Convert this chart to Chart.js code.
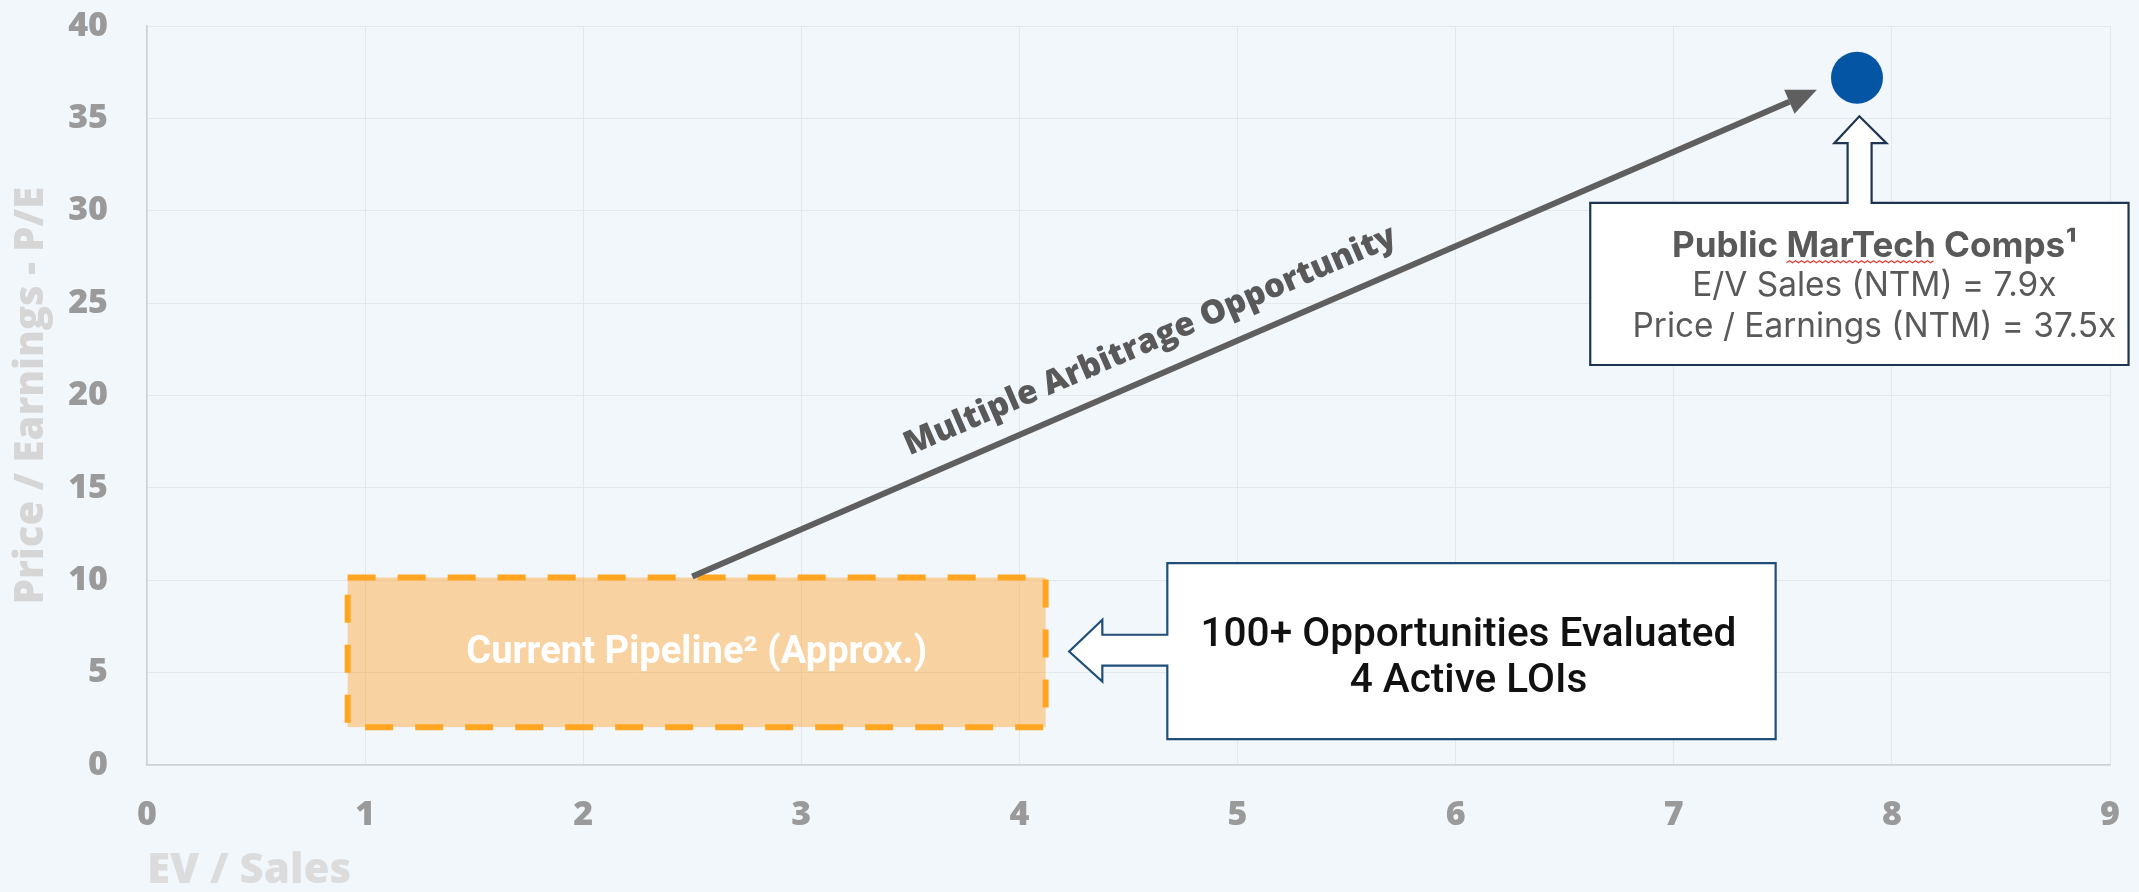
<!DOCTYPE html>
<html><head><meta charset="utf-8">
<script src="https://cdn.jsdelivr.net/npm/chart.js@4.4.1/dist/chart.umd.min.js"></script>
<style>html,body{margin:0;padding:0;background:#f2f7fc;} #wrap{width:2139px;height:892px;position:relative}</style>
</head><body><div id="wrap"><canvas id="c"></canvas></div>
<script>
// ---- data ----
const xTickValues = [0,1,2,3,4,5,6,7,8,9];
const yTickValues = [0,5,10,15,20,25,30,35,40];
const compsX = [7.84];
const compsY = [37.2];
const arrowX = [2.5, 7.53];
const arrowY = [10.2, 35.9];
const pipelineX = [0.92, 4.12];
const pipelineY = [2.05, 10.15];
const pipelineLabel = 'Current Pipeline² (Approx.)';
const arrowLabel = 'Multiple Arbitrage Opportunity';
const compsText = ['Public MarTech Comps¹', 'E/V Sales (NTM) = 7.9x', 'Price / Earnings (NTM) = 37.5x'];
const pipelineNote = ['100+ Opportunities Evaluated', '4 Active LOIs'];
const xTitle = 'EV / Sales';
const yTitle = 'Price / Earnings - P/E';

// ---- annotation geometry (data units) ----
const arrowLabelPos = {x: 4.60, y: 22.94};
const noteBox = {left: 4.678, right: 7.467, top: 10.93, bottom: 1.40, stemTop: 7.05, stemBottom: 5.38, headBackX: 4.38, headTop: 7.86, headBottom: 4.52, tipX: 4.228, tipY: 6.14};
const compsBox = {left: 6.617, right: 9.085, top: 30.43, bottom: 21.65, stemLeft: 7.797, stemRight: 7.907, headLeft: 7.736, headRight: 7.975, headBase: 33.66, tipX: 7.851, tipY: 35.11};

function fitSize(ctx, text, weight, family, target) {
  ctx.font = `${weight} 100px ${family}`;
  return 100 * target / ctx.measureText(text).width;
}

const bgPlugin = {
  id: 'bg',
  beforeDraw(c) {
    const ctx = c.ctx; ctx.save(); ctx.fillStyle = '#f2f7fc'; ctx.fillRect(0, 0, c.width, c.height); ctx.restore();
  }
};

const annotPlugin = {
  id: 'annot',
  beforeDatasetsDraw(c) {
    const ctx = c.ctx, X = c.scales.x, Y = c.scales.y;
    const x0 = X.getPixelForValue(pipelineX[0]), x1 = X.getPixelForValue(pipelineX[1]);
    const y0 = Y.getPixelForValue(pipelineY[1]), y1 = Y.getPixelForValue(pipelineY[0]);
    ctx.save();
    ctx.fillStyle = 'rgba(255,165,50,0.45)';
    ctx.fillRect(x0, y0, x1 - x0, y1 - y0);
    ctx.setLineDash([28, 22]);
    ctx.lineWidth = 6; ctx.strokeStyle = '#ffa51f';
    ctx.strokeRect(x0, y0, x1 - x0, y1 - y0);
    ctx.setLineDash([]);
    const s = fitSize(ctx, pipelineLabel, 700, 'Roboto', 461);
    ctx.font = `700 ${s}px Roboto`;
    ctx.fillStyle = '#ffffff'; ctx.textAlign = 'center'; ctx.textBaseline = 'middle';
    ctx.fillText(pipelineLabel, (x0 + x1) / 2, (y0 + y1) / 2 + 1);
    ctx.restore();
  },
  afterDatasetsDraw(c) {
    const ctx = c.ctx, X = c.scales.x, Y = c.scales.y;
    const px = v => X.getPixelForValue(v), py = v => Y.getPixelForValue(v);
    ctx.save();
    // arrow head
    const ax0 = px(arrowX[0]), ay0 = py(arrowY[0]), ax1 = px(arrowX[1]), ay1 = py(arrowY[1]);
    const ang = Math.atan2(ay1 - ay0, ax1 - ax0);
    const L = 30, W = 13;
    const tx = ax1 + L * Math.cos(ang), ty = ay1 + L * Math.sin(ang);
    ctx.fillStyle = '#5f5f5f';
    ctx.beginPath();
    ctx.moveTo(tx, ty);
    ctx.lineTo(ax1 + W * Math.sin(ang), ay1 - W * Math.cos(ang));
    ctx.lineTo(ax1 - W * Math.sin(ang), ay1 + W * Math.cos(ang));
    ctx.closePath(); ctx.fill();
    // arrow label
    ctx.save();
    ctx.translate(px(arrowLabelPos.x), py(arrowLabelPos.y));
    ctx.rotate(ang);
    const s1 = fitSize(ctx, arrowLabel, 800, '"Open Sans"', 533);
    ctx.font = `800 ${s1}px "Open Sans"`;
    ctx.fillStyle = '#595959'; ctx.textAlign = 'center'; ctx.textBaseline = 'middle';
    ctx.fillText(arrowLabel, 0, 0);
    ctx.restore();

    // note callout (left arrow)
    const b = noteBox;
    ctx.beginPath();
    ctx.moveTo(px(b.left), py(b.top));
    ctx.lineTo(px(b.right), py(b.top));
    ctx.lineTo(px(b.right), py(b.bottom));
    ctx.lineTo(px(b.left), py(b.bottom));
    ctx.lineTo(px(b.left), py(b.stemBottom));
    ctx.lineTo(px(b.headBackX), py(b.stemBottom));
    ctx.lineTo(px(b.headBackX), py(b.headBottom));
    ctx.lineTo(px(b.tipX), py(b.tipY));
    ctx.lineTo(px(b.headBackX), py(b.headTop));
    ctx.lineTo(px(b.headBackX), py(b.stemTop));
    ctx.lineTo(px(b.left), py(b.stemTop));
    ctx.closePath();
    ctx.fillStyle = '#ffffff'; ctx.fill();
    ctx.lineWidth = 2.2; ctx.strokeStyle = '#1f4e79'; ctx.lineJoin = 'miter'; ctx.stroke();
    const s2 = fitSize(ctx, pipelineNote[0], 500, 'Roboto', 536);
    ctx.font = `500 ${s2}px Roboto`;
    ctx.fillStyle = '#111111'; ctx.textAlign = 'center'; ctx.textBaseline = 'middle';
    const ncx = (px(b.left) + px(b.right)) / 2 - 3, ntop = py(b.top);
    ctx.fillText(pipelineNote[0], ncx, ntop + 73);
    ctx.fillText(pipelineNote[1], ncx, ntop + 119);

    // comps callout (up arrow)
    const d = compsBox;
    ctx.beginPath();
    ctx.moveTo(px(d.left), py(d.top));
    ctx.lineTo(px(d.stemLeft), py(d.top));
    ctx.lineTo(px(d.stemLeft), py(d.headBase));
    ctx.lineTo(px(d.headLeft), py(d.headBase));
    ctx.lineTo(px(d.tipX), py(d.tipY));
    ctx.lineTo(px(d.headRight), py(d.headBase));
    ctx.lineTo(px(d.stemRight), py(d.headBase));
    ctx.lineTo(px(d.stemRight), py(d.top));
    ctx.lineTo(px(d.right), py(d.top));
    ctx.lineTo(px(d.right), py(d.bottom));
    ctx.lineTo(px(d.left), py(d.bottom));
    ctx.closePath();
    ctx.fillStyle = '#ffffff'; ctx.fill();
    ctx.lineWidth = 2.2; ctx.strokeStyle = '#1d3550'; ctx.stroke();
    const ccx = (px(d.left) + px(d.right)) / 2 + 15, ctop = py(d.top);
    const s3 = fitSize(ctx, compsText[0], 700, 'Inter', 405);
    ctx.font = `700 ${s3}px Inter`;
    ctx.fillStyle = '#595959'; ctx.textAlign = 'center'; ctx.textBaseline = 'middle';
    ctx.fillText(compsText[0], ccx, ctop + 44);
    const full = ctx.measureText(compsText[0]).width;
    const pre = ctx.measureText('Public ').width;
    const word = ctx.measureText('MarTech').width;
    const sx = ccx - full / 2 + pre, ex = sx + word, sy = ctop + 60;
    ctx.beginPath(); ctx.strokeStyle = '#e53935'; ctx.lineWidth = 1.2;
    let up = true; ctx.moveTo(sx, sy);
    for (let xx = sx + 3; xx <= ex; xx += 3) { ctx.lineTo(xx, up ? sy - 2 : sy); up = !up; }
    ctx.stroke();
    const s4 = fitSize(ctx, compsText[2], 400, 'Inter', 484);
    ctx.font = `400 ${s4}px Inter`;
    ctx.fillStyle = '#595959';
    ctx.fillText(compsText[1], ccx, ctop + 83);
    ctx.fillText(compsText[2], ccx, ctop + 124);
    ctx.restore();
  }
};

function build() {
  new Chart(document.getElementById('c'), {
    type: 'scatter',
    data: {
      datasets: [
        { label: 'Multiple Arbitrage Opportunity', data: arrowX.map((x, i) => ({x, y: arrowY[i]})), showLine: true, borderColor: '#5f5f5f', backgroundColor: '#5f5f5f', borderWidth: 6, pointRadius: 0, pointHoverRadius: 0, borderCapStyle: 'butt', order: 2 },
        { label: 'Public MarTech Comps', data: compsX.map((x, i) => ({x, y: compsY[i]})), backgroundColor: '#0456a5', borderWidth: 0, pointRadius: 26, pointHoverRadius: 26, order: 1 }
      ]
    },
    options: {
      responsive: true, maintainAspectRatio: false, animation: false,
      layout: { padding: { left: 0, right: 29, top: 22, bottom: 0 } },
      plugins: { legend: { display: false }, tooltip: { enabled: false } },
      scales: {
        x: {
          type: 'linear', min: xTickValues[0], max: xTickValues[xTickValues.length - 1],
          afterBuildTicks(s) { s.ticks = xTickValues.map(v => ({value: v})); },
          ticks: { color: '#9a9a9a', font: { family: '"Open Sans"', weight: '800', size: 34 }, padding: 30 },
          grid: { color: '#e3e8ed', drawTicks: false },
          border: { color: '#cfd2d5', width: 1.5 },
          title: { display: true, text: xTitle, align: 'start', color: '#dcdcdc', font: { family: '"Open Sans"', weight: '800', size: 42, lineHeight: 1 }, padding: { top: 0, bottom: 0 } },
          afterFit(s) { s.height = 127; s.paddingLeft = 0; s.paddingRight = 0; s.paddingTop = 0; s.paddingBottom = 0; }
        },
        y: {
          type: 'linear', min: yTickValues[0], max: yTickValues[yTickValues.length - 1],
          afterBuildTicks(s) { s.ticks = yTickValues.map(v => ({value: v})); },
          ticks: { color: '#9a9a9a', font: { family: '"Open Sans"', weight: '800', size: 34 }, padding: 39 },
          grid: { color: '#e3e8ed', drawTicks: false },
          border: { color: '#cfd2d5', width: 1.5 },
          title: { display: true, text: yTitle, align: 'center', color: '#d6d6d6', font: { family: '"Open Sans"', weight: '800', size: 40, lineHeight: 1 }, padding: { top: 12, bottom: 0 } },
          afterFit(s) { s.width = 147; s.paddingLeft = 0; s.paddingRight = 0; s.paddingTop = 0; s.paddingBottom = 0; }
        }
      }
    },
    plugins: [bgPlugin, annotPlugin]
  });
}
if (document.fonts && document.fonts.load) {
  Promise.all([
    document.fonts.load('700 32px Inter'), document.fonts.load('400 32px Inter'),
    document.fonts.load('700 32px Roboto'), document.fonts.load('500 32px Roboto'),
    document.fonts.load('700 32px "Open Sans"'), document.fonts.load('800 32px "Open Sans"')
  ]).then(build, build);
} else { build(); }
</script>
</body></html>
